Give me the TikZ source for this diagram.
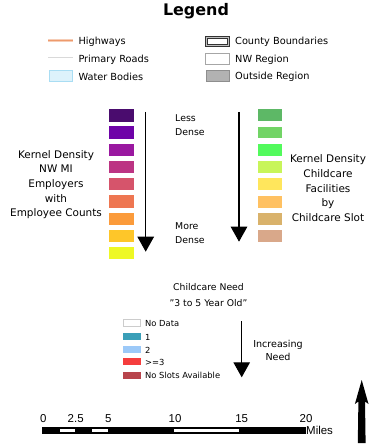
\documentclass[tikz,border=0pt]{standalone}
\usepackage{fontspec}
\setmainfont{DejaVu Sans}
\newfontfamily\arialf{Liberation Sans}
\usetikzlibrary{arrows.meta}
\definecolor{hwyout}{HTML}{F6CDB6}
\definecolor{hwyin}{HTML}{EE9A6C}
\definecolor{roadc}{HTML}{D9D9D9}
\definecolor{waterf}{HTML}{DDF2FB}
\definecolor{waterd}{HTML}{A9DDF3}
\definecolor{outsidef}{HTML}{B2B2B2}
\definecolor{pa}{HTML}{4A0C6E}
\definecolor{pb}{HTML}{6E02A8}
\definecolor{pc}{HTML}{9A18A0}
\definecolor{pd}{HTML}{BC3483}
\definecolor{pe}{HTML}{D6546B}
\definecolor{pf}{HTML}{EE7651}
\definecolor{pg}{HTML}{FB9B3B}
\definecolor{ph}{HTML}{FEC629}
\definecolor{pi}{HTML}{EEF825}
\definecolor{ga}{HTML}{5DB866}
\definecolor{gb}{HTML}{72D466}
\definecolor{gc}{HTML}{52FA5C}
\definecolor{gd}{HTML}{C8F55A}
\definecolor{ge}{HTML}{FFE65C}
\definecolor{gf}{HTML}{FFC162}
\definecolor{gg}{HTML}{D9B26B}
\definecolor{gh}{HTML}{D9A88A}
\definecolor{na}{HTML}{3A9FB8}
\definecolor{nb}{HTML}{9CC9F8}
\definecolor{nc}{HTML}{F53D3D}
\definecolor{nd}{HTML}{B8444C}
\begin{document}
\begin{tikzpicture}[x=1bp,y=-1bp,
  lbl/.style={anchor=west,inner sep=0pt,font=\fontsize{9.8}{11}\selectfont},
  smlbl/.style={anchor=west,inner sep=0pt,font=\fontsize{8.4}{10}\selectfont},
  block/.style={align=center,inner sep=0pt,font=\fontsize{10.5}{14.7}\selectfont},
  dense/.style={anchor=west,align=left,inner sep=0pt,font=\fontsize{9.4}{13.7}\selectfont},
  scl/.style={inner sep=0pt,font=\arialf\fontsize{11.5}{12}\selectfont},
  bigarrow/.style={line width=1.1bp,-{Triangle[width=16.5bp,length=15bp]}}
]
\useasboundingbox (0,0) rectangle (375,445);
% title
\node[inner sep=0pt,font=\bfseries\fontsize{16}{18}\selectfont] (title) at (196,11) {Legend};
% top legend left column
\coordinate (hw1) at (48,40.7); \coordinate (hw2) at (72.7,40.7);
\draw[hwyout,line width=3.2bp] (hw1) -- (hw2);
\draw[hwyin,line width=1.4bp] (hw1) -- (hw2);
\node[lbl] (hwy) at (78.3,42.3) {Highways};
\coordinate (pr1) at (48,57.7); \coordinate (pr2) at (72.7,57.7);
\draw[roadc,line width=0.8bp] (pr1) -- (pr2);
\node[lbl] (proad) at (78.3,59.7) {Primary Roads};
\draw[fill=waterf,draw=waterd,line width=0.5bp] (49,70) rectangle (72.7,81.7);
\node[lbl] (water) at (78.3,77) {Water Bodies};
% top legend right column
\draw[draw=black!80,fill=black!25,line width=0.8bp] (205.7,36.7) rectangle (229.3,46.7);
\draw[draw=black!80,fill=white,line width=0.8bp] (207.7,38.7) rectangle (227.3,44.7);
\node[lbl] (county) at (235,42.3) {County Boundaries};
\draw[draw=black!35,fill=white,line width=0.6bp] (205.7,53.3) rectangle (229.3,64.3);
\node[lbl] (nwreg) at (235,59.7) {NW Region};
\draw[draw=outsidef!80!black,fill=outsidef,line width=0.4bp] (205.7,70) rectangle (229.3,81.7);
\node[lbl] (outreg) at (235,77) {Outside Region};
% left swatches
\foreach \c [count=\i from 0] in {pa,pb,pc,pd,pe,pf,pg,ph,pi}{
  \fill[\c] (109.3,{109.3+\i*17.2}) rectangle (134.3,{121.6+\i*17.2});
}
\coordinate (la1) at (145.7,112); \coordinate (la2) at (145.7,251.7);
\draw[bigarrow] (la1) -- (la2);
\node[block] (lefttxt) at (56,184.5) {Kernel Density\\NW MI\\Employers\\with\\Employee Counts};
% middle labels
\node[dense] (less) at (175,125.3) {Less\\Dense};
\node[dense] (more) at (175,233.3) {More\\Dense};
% right swatches
\foreach \c [count=\i from 0] in {ga,gb,gc,gd,ge,gf,gg,gh}{
  \fill[\c] (257.7,{109.3+\i*17.3}) rectangle (282.3,{121.1+\i*17.3});
}
\coordinate (ra1) at (239,112); \coordinate (ra2) at (239,241.7);
\draw[bigarrow] (ra1) -- (ra2);
\node[block] (righttxt) at (328,188.2) {Kernel Density\\Childcare\\Facilities\\by\\Childcare Slot};
% childcare need
\node[align=center,inner sep=0pt,font=\fontsize{9.3}{15.3}\selectfont] (need) at (208.5,295) {Childcare Need\\"3 to 5 Year Old"};
\draw[draw=black!20,fill=white,line width=0.5bp] (123.3,319) rectangle (140.7,326.5);
\node[smlbl] (nodata) at (145,323.5) {No Data};
\fill[na] (123.3,332.7) rectangle (140.7,339.7);
\node[smlbl] (n1) at (145,337.5) {1};
\fill[nb] (123.3,346.2) rectangle (140.7,353);
\node[smlbl] (n2) at (145,350) {2};
\fill[nc] (123.3,358.3) rectangle (140.7,365.2);
\node[smlbl] (n3) at (145,362.2) {>=3};
\fill[nd] (123.3,371.7) rectangle (140.7,378.5);
\node[smlbl] (nslot) at (145,375.7) {No Slots Available};
\coordinate (na1) at (241.7,321); \coordinate (na2) at (241.7,377.3);
\draw[bigarrow] (na1) -- (na2);
\node[align=center,inner sep=0pt,font=\fontsize{9.6}{13}\selectfont] (incr) at (278,350.8) {Increasing\\Need};
% scale bar
\draw[fill=black,line width=0.5bp] (42.7,427.7) rectangle (305,433.3);
\fill[white] (60,429) rectangle (75,432);
\fill[white] (92.3,429) rectangle (107.7,432);
\fill[white] (174,429) rectangle (239.3,432);
\node[scl] (s0) at (43.3,419) {0};
\node[scl] (s25) at (75.7,419) {2.5};
\node[scl] (s5) at (108.3,419) {5};
\node[scl] (s10) at (175,419) {10};
\node[scl] (s15) at (241.7,419) {15};
\node[scl] (s20) at (306,419) {20};
\node[scl,anchor=west] (miles) at (306,430.5) {Miles};
% north arrow
\fill[black] (361.7,380) -- (368.5,404) -- (365,401.5) -- (365.6,443) -- (357.8,443) -- (358.4,401.5) -- (354.9,404) -- cycle;
\end{tikzpicture}
\end{document}
